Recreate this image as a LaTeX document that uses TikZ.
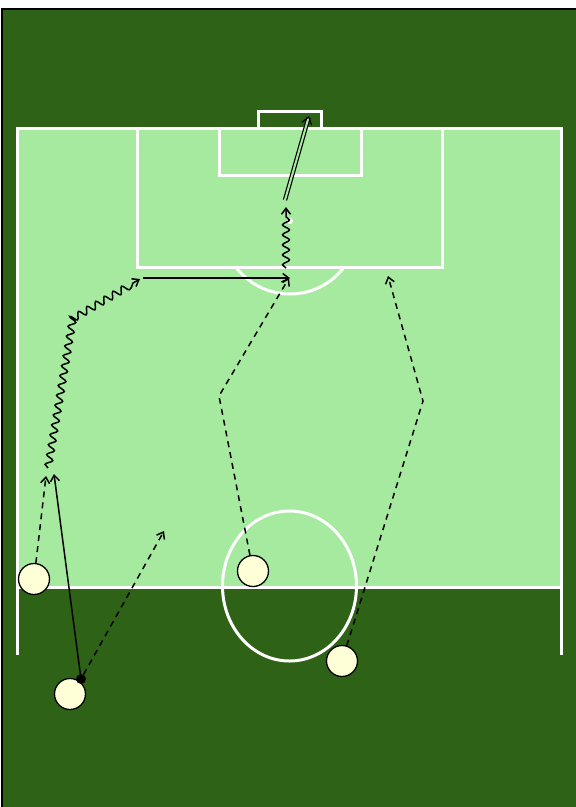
\documentclass[tikz,border=0pt]{standalone}
\usepackage{tikz}
\usetikzlibrary{arrows.meta,decorations.pathmorphing}
\definecolor{pitchdark}{RGB}{46,98,22}
\definecolor{pitchlight}{RGB}{165,234,158}
\definecolor{shirt}{RGB}{255,255,215}
\tikzset{
  line/.style={draw=white, line width=3pt},
  player/.style={circle, draw, line width=1.3pt, fill=shirt, minimum size=31pt, inner sep=0pt},
  ball/.style={circle, fill=black, minimum size=10pt, inner sep=0pt},
  pass/.style={-{Straight Barb[length=6pt,width=9pt]}, line width=1.5pt},
  run/.style={-{Straight Barb[length=6pt,width=9pt]}, line width=1.5pt, dash pattern=on 6pt off 5pt},
  dribble/.style={-{Straight Barb[length=6pt,width=9pt]}, line width=1.5pt,
    decorate, decoration={snake, amplitude=3.5pt, segment length=10pt, post length=7pt}},
  shot/.style={-{Straight Barb[length=7pt,width=10pt]}, line width=1.2pt, double=pitchlight, double distance=2pt}
}
\begin{document}
\begin{tikzpicture}[x=1pt,y=-1pt]
  \useasboundingbox (0,0) rectangle (576,807);
  % pitch
  \fill[pitchdark] (2,9) rectangle (576,807);
  \draw[line width=2.5pt] (2,807) -- (2,9) -- (576,9);
  \fill[pitchlight] (17,128) rectangle (561,587);
  \draw[line] (17,655) -- (17,128) -- (561,128) -- (561,655);
  \draw[line] (17,587) -- (561,587);
  \draw[line] (137,128) rectangle (442,267);
  \draw[line] (219,128) rectangle (361,175);
  \draw[line] (258,128) -- (258,111) -- (321,111) -- (321,128);
  \fill[white] (290,221) circle (3pt);
  \begin{scope}
    \clip (17,267) rectangle (561,320);
    \draw[line] (290,226) ellipse (68pt and 68pt);
  \end{scope}
  \draw[line] (289.5,586) ellipse (67pt and 75pt);

  % players
  \node[player] (p1) at (34,579) {};
  \node[player] (p2) at (70,694) {};
  \node[player] (p3) at (253,571) {};
  \node[player] (p4) at (342,661) {};
  \node[ball] (ball) at (81,679) {};

  \coordinate (p1end) at (46,476);
  \coordinate (passend) at (54,474);
  \coordinate (ballend) at (164,531);
  \coordinate (drib1) at (48,468);
  \coordinate (drib2) at (73,318);
  \coordinate (drib3) at (140,279);
  \coordinate (cross1) at (143,278);
  \coordinate (cross2) at (290,278);
  \coordinate (drib4) at (286,268);
  \coordinate (drib5) at (286,207);
  \coordinate (shot1) at (285,200);
  \coordinate (goal) at (309,116);
  \coordinate (p3turn) at (219,396);
  \coordinate (p3end) at (289,278);
  \coordinate (p4turn) at (423,401);
  \coordinate (p4end) at (388,276);

  % movements
  \draw[run] (p1) -- (p1end);
  \draw[pass] (ball) -- (passend);
  \draw[run] (ball) -- (ballend);
  \draw[dribble] (drib1) -- (drib2) -- (drib3);
  \draw[pass] (cross1) -- (cross2);
  \draw[dribble] (drib4) -- (drib5);
  \draw[shot] (shot1) -- (goal);
  \draw[run] (p3) -- (p3turn) -- (p3end);
  \draw[run] (p4) -- (p4turn) -- (p4end);
\end{tikzpicture}
\end{document}
